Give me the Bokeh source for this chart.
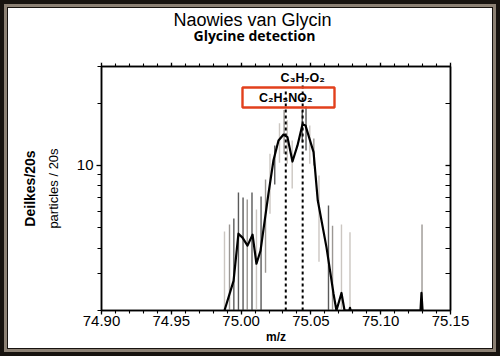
import math
from bokeh.plotting import figure
from bokeh.models import (Range1d, FixedTicker, LinearAxis, LogAxis, Label, Title,
                          PrintfTickFormatter, BoxAnnotation, ColumnDataSource)
from bokeh.embed import file_html
from bokeh.resources import INLINE

# ---------------- data ----------------
spec_mz = [74.9881, 74.9946, 74.9981, 75.0010, 75.0046, 75.0082, 75.0110, 75.0139,
           75.0196, 75.0232, 75.0268, 75.0304, 75.0332, 75.0368, 75.0404, 75.0440,
           75.0461, 75.0519, 75.0549, 75.0612, 75.0662, 75.0683, 75.0719, 75.0741,
           75.0775, 75.0780, 75.0785, 75.1285, 75.1292, 75.1300]
spec_counts = [2.0, 2.78, 4.69, 4.49, 4.11, 4.64, 3.36, 3.88,
               7.32, 10.6, 13.2, 14.1, 13.7, 10.45, 12.5, 15.8,
               15.6, 11.6, 6.8, 4.02, 2.41, 2.0, 2.43, 2.0,
               2.0, 2.06, 2.0, 2.0, 2.43, 2.0]

err_mz = [74.9881, 74.9917, 74.9948, 74.9981, 75.0014, 75.0044, 75.0078, 75.0110,
          75.0143, 75.0175, 75.0207, 75.0241, 75.0275, 75.0308, 75.0331, 75.0366,
          75.0438, 75.0465, 75.0492, 75.0521, 75.0558, 75.0626, 75.0655, 75.0719,
          75.0780, 75.1296]
err_hi = [4.80, 5.19, 5.55, 7.41, 7.00, 6.85, 7.41, 6.13,
          7.08, 8.56, 11.4, 12.5, 16.0, 18.5, 16.5, 13.2,
          18.4, 19.3, 15.6, 13.5, 8.95, 6.41, 5.13, 5.19,
          4.77, 5.19]
err_lo = [2.0, 2.0, 2.0, 2.0, 2.0, 2.0, 2.0, 2.0,
          2.0, 3.04, 5.86, 8.09, 10.3, 11.4, 10.2, 7.74,
          12.9, 11.8, 10.2, 10.0, 3.44, 2.0, 2.0, 2.0,
          2.0, 2.0]
err_series = [0, 1, 2, 2, 2, 1, 2, 0, 2, 1, 0, 2, 0, 1, 0, 0, 2, 2, 0, 1, 0, 2, 1, 0, 0, 1]

ion_mz = [75.0320, 75.0441]
ion_names = ["C\u2082H\u2085NO\u2082", "C\u2083H\u2087O\u2082"]

x_ticks = [74.90, 74.95, 75.00, 75.05, 75.10, 75.15]
y_ticks = [10]
title_main = "Naowies van Glycin"
title_sub = "Glycine detection"
x_label = "m/z"
y_label_1 = "Deilkes/20s"
y_label_2 = "particles / 20s"

# ---------------- figure ----------------
X0, X1 = 74.90, 75.15
Y0, Y1 = 2.0, 30.0
W, H = 484, 340
FL, FR, FT, FB = 93, 42, 58, 38  # frame borders on canvas

p = figure(width=W, height=H, output_backend="svg", toolbar_location=None,
           title=None,
           x_range=Range1d(X0, X1), y_range=Range1d(Y0, Y1), y_axis_type="log",
           min_border_left=FL, min_border_right=FR, min_border_top=FT,
           min_border_bottom=FB, background_fill_color="white",
           border_fill_color="white", outline_line_color="black",
           outline_line_width=1.5)
p.styles = {"margin": "8px", "outline": "3px solid #8c8174",
            "outline-offset": "1px", "box-shadow": "0 0 0 8px #17130f"}
p.grid.visible = False

# frame geometry for annotation placement (image px -> data)
IMG_OFF = 8
fl, fr = FL + IMG_OFF, W - FR + IMG_OFF
ft, fb = FT + IMG_OFF, H - FB + IMG_OFF


def px2x(px):
    return X0 + (px - fl) * (X1 - X0) / (fr - fl)


def px2y(py):
    l0, l1 = math.log10(Y0), math.log10(Y1)
    return 10 ** (l0 + (fb - py) * (l1 - l0) / (fb - ft))


minor_x = [round(X0 + 0.01 * i, 2) for i in range(26)]
minor_y = [2, 3, 4, 5, 6, 7, 8, 9, 20, 30]

xt = FixedTicker(ticks=x_ticks, minor_ticks=minor_x)
yt = FixedTicker(ticks=y_ticks, minor_ticks=minor_y)

ax = p.xaxis[0]
ax.ticker = xt
ax.formatter = PrintfTickFormatter(format="%.2f")
ax.axis_label = x_label
ax.axis_label_text_font = "Liberation Sans"
ax.axis_label_text_font_style = "bold"
ax.axis_label_text_font_size = "12px"
ax.axis_label_standoff = 1
ax.major_label_text_font = "Liberation Sans"
ax.major_label_text_font_size = "15px"
ax.major_label_standoff = 1

ay = p.yaxis[0]
ay.ticker = yt
ay.formatter = PrintfTickFormatter(format="%d")
ay.major_label_text_font = "Liberation Sans"
ay.major_label_text_font_size = "15px"
ay.major_label_standoff = 3
ay.axis_label = y_label_2
ay.axis_label_text_font = "Liberation Sans"
ay.axis_label_text_font_style = "normal"
ay.axis_label_text_font_size = "13px"
ay.axis_label_standoff = 13

ay2 = LogAxis(ticker=yt, axis_line_color=None, major_tick_out=0, major_tick_in=0,
              minor_tick_out=0, minor_tick_in=0, major_label_text_color=None,
              major_label_text_font_size="1px", major_label_standoff=0,
              axis_label=y_label_1, axis_label_text_font="Liberation Sans",
              axis_label_text_font_style="bold", axis_label_text_font_size="14px",
              axis_label_standoff=5)
p.add_layout(ay2, "left")

top = LinearAxis(ticker=xt, major_label_text_color=None,
                 major_label_text_font_size="1px", major_label_standoff=0)
right = LogAxis(ticker=yt, major_label_text_color=None,
                major_label_text_font_size="1px", major_label_standoff=0)
p.add_layout(top, "above")
p.add_layout(right, "right")

# blank spacer between top axis and titles (white ticks on white)
spacer = LinearAxis(ticker=FixedTicker(ticks=x_ticks, minor_ticks=[]),
                    axis_line_color=None, major_tick_out=18, major_tick_in=0,
                    minor_tick_out=0, minor_tick_in=0,
                    major_tick_line_color="white", major_tick_line_width=1,
                    minor_tick_line_color=None, major_label_text_color=None,
                    major_label_text_font_size="1px", major_label_standoff=0)
p.add_layout(spacer, "above")

p.add_layout(Title(text=title_sub, text_font="Open Sans", text_font_style="bold",
                   text_font_size="14px", text_color="black", align="left",
                   offset=92, standoff=0), "above")
p.add_layout(Title(text=title_main, text_font="Liberation Sans",
                   text_font_style="normal", text_font_size="18px",
                   text_color="black", align="left", offset=72,
                   standoff=-13), "above")

for a in (ax, top):
    a.major_tick_out = 4
    a.major_tick_in = 0
    a.minor_tick_out = 3
    a.minor_tick_in = 0
ay.major_tick_out = 5
ay.major_tick_in = 0
ay.minor_tick_out = 4
ay.minor_tick_in = 0
right.major_tick_out = 0
right.major_tick_in = 5
right.minor_tick_out = 0
right.minor_tick_in = 5
for a in (ax, ay, top, right):
    a.axis_line_width = 1.5
    a.major_tick_line_width = 1.3
    a.minor_tick_line_width = 1.1
    a.axis_line_color = "black"
    a.major_tick_line_color = "black"
    a.minor_tick_line_color = "black"
for a in (ax, ay):
    a.major_label_text_color = "black"
for a in (ax, ay, ay2):
    a.axis_label_text_color = "black"

# error bars
shade = ["#cbc6c1", "#9b9793", "#5a5a5a"]
err_src = ColumnDataSource(dict(x=err_mz, lo=err_lo, hi=err_hi,
                                color=[shade[s] for s in err_series]))
p.segment(x0="x", y0="lo", x1="x", y1="hi", source=err_src,
          line_color="color", line_width=1.4)

# dashed ion markers
ion_top = [px2y(ft + 22), px2y(ft + 19)]
p.segment(x0=ion_mz, y0=[Y0, Y0], x1=ion_mz, y1=ion_top, line_color="black",
          line_width=2, line_dash="3 3")

# spectrum
p.line(spec_mz, spec_counts, line_color="black", line_width=2.2,
       line_join="round")

# annotation box around ion label
p.add_layout(BoxAnnotation(left=px2x(242), right=px2x(334), top=px2y(87),
                           bottom=px2y(107), fill_color="white", fill_alpha=0.0,
                           line_color="#e2401c", line_alpha=1.0,
                           line_width=2.4))

p.add_layout(Label(x=ion_mz[0], y=px2y(97), text=ion_names[0],
                   text_font="Liberation Sans", text_font_style="bold",
                   text_font_size="12.5px", text_color="black",
                   text_align="center", text_baseline="middle"))
p.add_layout(Label(x=ion_mz[1], y=px2y(77), text=ion_names[1],
                   text_font="Liberation Sans", text_font_style="bold",
                   text_font_size="12.5px", text_color="black",
                   text_align="center", text_baseline="middle"))

open("out.html", "w").write(file_html(p, INLINE))
